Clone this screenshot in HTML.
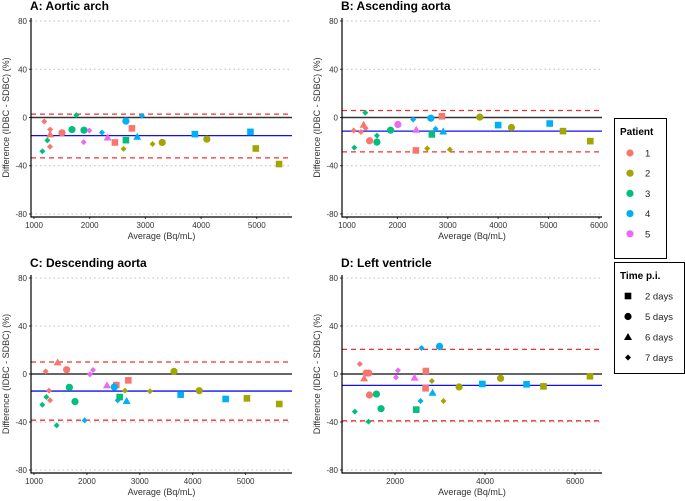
<!DOCTYPE html>
<html><head><meta charset="utf-8"><style>
body{margin:0;background:#fff;}
svg{display:block;font-family:"Liberation Sans",sans-serif;}
</style></head><body>
<svg id="chart" width="685" height="501" viewBox="0 0 685 501"></svg>
<script>
const patientColors = ["#F8766D","#A3A500","#00BF7D","#00B0F6","#E76BF3"];
const timeLabels = ["2 days","5 days","6 days","7 days"];
const yTicks = [80,40,0,-40,-80];
// each point: [average, difference, patient(1-5), timeIndex(0=2d,1=5d,2=6d,3=7d)]
const pointsA = [[1185,-3.3,1,3],[1287,-24.3,1,3],[1290,-14,1,2],[1290,-10,1,3],[1502,-12.7,1,1],[1150,-28,3,3],[1240,-19,3,3],[1760,2,3,3],[1682,-10,3,1],[1897,-10.5,3,1],[1993,-10.8,5,3],[1892,-20.4,5,3],[2220,-12.4,4,3],[2321,-16.6,5,2],[2453,-20.7,1,0],[2608,-26,2,3],[2650,-18.8,3,0],[2650,-3,4,1],[2758,-9,1,0],[2853,-16,4,2],[2937,1.5,4,3],[3128,-22,2,3],[3302,-20.7,2,1],[3888,-13.8,4,0],[4103,-18,2,1],[4886,-11.9,4,0],[4982,-25.7,2,0],[5400,-38.6,2,0]];
const pointsB = [[1132,-10.8,1,3],[1277,-12,1,3],[1330,-6,1,2],[1370,-8.8,1,3],[1449,-19.3,1,1],[1145,-25,3,3],[1363,3.9,3,3],[1594,-15,3,3],[1594,-20.4,3,1],[1865,-10.5,3,1],[2010,-5.8,5,1],[2314,-1.7,4,3],[2374,-10.2,5,2],[2367,-27.3,1,0],[2592,-25.7,2,3],[2664,-0.6,4,1],[2684,-14,3,0],[2757,-9.4,4,3],[2882,1,1,0],[2909,-11.6,4,2],[3041,-26.5,2,3],[3635,0.3,2,1],[3999,-6.3,4,0],[4263,-8.3,2,1],[5022,-5,4,0],[5286,-11.3,2,0],[5828,-19.6,2,0]];
const pointsC = [[1220,2.2,1,3],[1447,9.7,1,2],[1617,3.6,1,1],[1283,-13.9,1,3],[1302,-21.9,1,3],[1157,-25.6,3,3],[1233,-19.2,3,3],[1428,-42.8,3,3],[1668,-11.1,3,1],[1775,-23,3,1],[2058,-0.3,5,3],[2115,3.3,5,3],[1957,-38.6,4,3],[2380,-9.4,5,2],[2556,-9.2,1,0],[2518,-10.8,4,1],[2581,-22,4,3],[2619,-19.2,3,0],[2751,-22.5,4,2],[2720,-13.9,2,3],[2783,-5.3,1,0],[3192,-14.4,2,3],[3646,2.2,2,1],[3772,-17.2,4,0],[4124,-13.9,2,1],[4622,-20.8,4,0],[5025,-20.3,2,0],[5636,-25,2,0]];
const pointsD = [[1218,8.3,1,3],[1314,-3.6,1,2],[1358,0.8,1,1],[1417,0.8,1,1],[1432,-17.5,1,1],[1107,-31.4,3,3],[1410,-39.7,3,3],[1587,-16.7,3,1],[1690,-28.9,3,1],[2022,-2.8,5,3],[2066,3,5,3],[2435,-3,5,2],[2590,21.7,4,3],[2568,-22.5,4,3],[2472,-29.7,3,0],[2686,2.5,1,0],[2679,-11.9,1,0],[2819,-5.8,2,3],[2834,-15.6,4,2],[2989,23,4,1],[3077,-22.5,2,3],[3424,-10.8,2,1],[3941,-8.3,4,0],[4347,-3.6,2,1],[4923,-8.6,4,0],[5299,-10.3,2,0],[6332,-1.9,2,0]];
// mean bias, upper LoA, lower LoA
const statsA = [-15,2.8,-33.5];
const statsB = [-11.3,5.8,-28.5];
const statsC = [-14.2,10,-38.5];
const statsD = [-9.5,20.5,-39];
const xTicksA = [1000,2000,3000,4000,5000];
const xTicksB = [1000,2000,3000,4000,5000,6000];
const xTicksC = [1000,2000,3000,4000,5000];
const xTicksD = [2000,4000,6000];

const NS="http://www.w3.org/2000/svg";
const svg=document.getElementById('chart');
function mk(tag,attrs,parent){const e=document.createElementNS(NS,tag);for(const k in attrs)e.setAttribute(k,attrs[k]);(parent||svg).appendChild(e);return e;}

function marker(g,shape,cx,cy,color){
  let e;
  if(shape===0){e=mk('rect',{x:cx-3.3,y:cy-3.3,width:6.6,height:6.6,fill:color},g);}
  else if(shape===1){e=mk('circle',{cx:cx,cy:cy,r:3.6,fill:color},g);}
  else if(shape===2){e=mk('polygon',{points:`${cx},${cy-4} ${cx+4},${cy+3} ${cx-4},${cy+3}`,fill:color},g);}
  else {e=mk('polygon',{points:`${cx},${cy-3} ${cx+3},${cy} ${cx},${cy+3} ${cx-3},${cy}`,fill:color},g);}
  return e;
}

function panel(cfg){
  const g=mk('g',{});
  
  
  const {left,right,top,bottom,xmin,xmax}=cfg;
  const ymin=-82.5,ymax=82.5;
  const sx=v=>left+(v-xmin)/(xmax-xmin)*(right-left);
  const sy=v=>bottom-(v-ymin)/(ymax-ymin)*(bottom-top);
  const t=mk('text',{x:left-1,y:top-8,'font-size':12,'font-weight':'bold',fill:'#000'},g);
  t.textContent=cfg.title;
  
  
  yTicks.forEach(v=>{
    if(v!==0){const l=mk('line',{x1:left,x2:right,y1:sy(v),y2:sy(v),stroke:'#bdbdbd','stroke-width':1,'stroke-dasharray':'1.5,3'},g);
      }
    const tl=mk('text',{x:left-4,y:sy(v)+3,'font-size':8,'text-anchor':'end',fill:'#333'},g);
    tl.textContent=v;
    
    mk('line',{x1:left-2,x2:left,y1:sy(v),y2:sy(v),stroke:'#333'},g);
  });
  cfg.xticks.forEach(v=>{
    const tl=mk('text',{x:sx(v),y:bottom+11,'font-size':8,'text-anchor':'middle',fill:'#333'},g);
    tl.textContent=v;
    
    mk('line',{x1:sx(v),x2:sx(v),y1:bottom,y2:bottom+2,stroke:'#333'},g);
  });
  const z=mk('line',{x1:left,x2:right,y1:sy(0),y2:sy(0),stroke:'#333','stroke-width':1.5},g);
  
  const s=cfg.stats;
  const m=mk('line',{x1:left,x2:right,y1:sy(s[0]),y2:sy(s[0]),stroke:'#1010f0','stroke-width':1.3},g);
  
  [s[1],s[2]].forEach(v=>{const l=mk('line',{x1:left,x2:right,y1:sy(v),y2:sy(v),stroke:'#f03030','stroke-width':1.3,'stroke-dasharray':'5,4'},g);
    });
  cfg.pts.forEach(p=>{const e=marker(g,p[3],sx(p[0]),sy(p[1]),patientColors[p[2]-1]);
    });
  const ax=mk('path',{d:`M${left},${top} V${bottom} H${right}`,fill:'none',stroke:'#000','stroke-width':1.2},g);
  
  const xl=mk('text',{x:(left+right)/2,y:bottom+22,'font-size':9,'text-anchor':'middle',fill:'#333'},g);
  xl.textContent='Average (Bq/mL)';
  
  const cy=(top+bottom)/2;
  const yl=mk('text',{x:left-22,y:cy,'font-size':9,'text-anchor':'middle',fill:'#333',transform:`rotate(-90 ${left-22} ${cy})`},g);
  yl.textContent='Difference (IDBC - SDBC) (%)';
  
}
panel({name:'panel-a',title:'A: Aortic arch',left:31,right:292,top:18,bottom:217,xmin:946,xmax:5632,xticks:xTicksA,stats:statsA,pts:pointsA});
panel({name:'panel-b',title:'B: Ascending aorta',left:342,right:602,top:18,bottom:217,xmin:901,xmax:6060,xticks:xTicksB,stats:statsB,pts:pointsB});
panel({name:'panel-c',title:'C: Descending aorta',left:31,right:292,top:275,bottom:473,xmin:943,xmax:5877,xticks:xTicksC,stats:statsC,pts:pointsC});
panel({name:'panel-d',title:'D: Left ventricle',left:342,right:602,top:275,bottom:473,xmin:822,xmax:6600,xticks:xTicksD,stats:statsD,pts:pointsD});

// legends
const lg1=mk('g',{});

mk('rect',{x:614.5,y:118.5,width:52,height:140,fill:'#fff',stroke:'#000','stroke-width':1},lg1);
const t1=mk('text',{x:620,y:135,'font-size':10,'font-weight':'bold'},lg1);t1.textContent='Patient';
patientColors.forEach((c,i)=>{const y=153+i*20.2;
  const d=mk('circle',{cx:630,cy:y,r:3.6,fill:c},lg1);
  
  const tx=mk('text',{x:645,y:y+3.5,'font-size':9.5,fill:'#222'},lg1);tx.textContent=String(i+1);});
const lg2=mk('g',{});

mk('rect',{x:614.5,y:262.5,width:70,height:111,fill:'#fff',stroke:'#000','stroke-width':1},lg2);
const t2=mk('text',{x:620,y:279,'font-size':10,'font-weight':'bold'},lg2);t2.textContent='Time p.i.';
timeLabels.forEach((l,i)=>{const y=296+i*20.5;
  const d=marker(lg2,i,628,y,'#000');
  
  const tx=mk('text',{x:645,y:y+3.5,'font-size':9.5,fill:'#222'},lg2);tx.textContent=l;});
</script>
</body></html>
